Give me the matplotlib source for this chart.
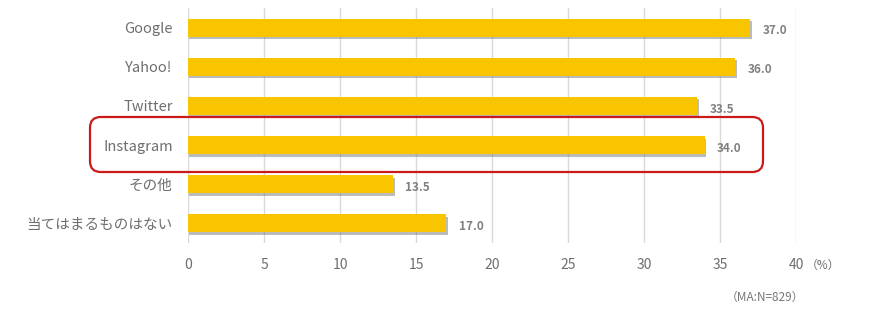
import matplotlib.pyplot as plt
import matplotlib.patheffects as pe
from matplotlib.patches import FancyBboxPatch

plt.rcParams['font.family'] = ['Noto Sans CJK JP', 'DejaVu Sans']

categories = ["Google", "Yahoo!", "Twitter", "Instagram", "その他", "当てはまるものはない"]
values = [37.0, 36.0, 33.5, 34.0, 13.5, 17.0]
xticks = [0, 5, 10, 15, 20, 25, 30, 35, 40]

fig = plt.figure(figsize=(8.93, 3.14), dpi=100)
ax = fig.add_axes([188 / 893, 1 - 243 / 314, (796 - 188) / 893, (243 - 8) / 314])

ypos = range(len(categories))
bars = ax.barh(ypos, values, height=0.46, color="#F9C400", zorder=3)
for b in bars:
    b.set_path_effects([pe.SimplePatchShadow(offset=(1.0, -1.8), shadow_rgbFace="#6a6a6a", alpha=0.45),
                        pe.Normal()])

for y, v in zip(ypos, values):
    ax.text(v + 0.8, y + 0.08, f"{v:.1f}", va="center", ha="left",
            fontsize=8.5, fontweight="bold", color="#808080")

ax.set_xlim(0, 40)
ax.set_ylim(5.5, -0.5)
ax.set_xticks(xticks)
ax.set_yticks(list(ypos))
ax.set_yticklabels(categories)
ax.tick_params(axis="both", length=0, colors="#6e6e6e", labelsize=10)
ax.tick_params(axis="y", labelsize=10.5, pad=11)
ax.tick_params(axis="x", pad=11)
for s in ax.spines.values():
    s.set_visible(False)
ax.grid(axis="x", color="#d9d9d9", linewidth=1, zorder=0)

fig.text(806 / 893, 1 - 265 / 314, "（%）", fontsize=8.5, color="#6e6e6e", va="center", ha="left")
fig.text(765 / 893, 1 - 297 / 314, "（MA:N=829）", fontsize=8.5, color="#777777", va="center", ha="center")

box = FancyBboxPatch((90 / 893, 1 - 172 / 314), (763 - 90) / 893, (172 - 117) / 314,
                     boxstyle="round,pad=0,rounding_size=0.012", mutation_aspect=893 / 314,
                     transform=fig.transFigure, fill=False, edgecolor="#cc1a1a", linewidth=1.6)
fig.patches.append(box)

fig.savefig("out.png", dpi=100)
